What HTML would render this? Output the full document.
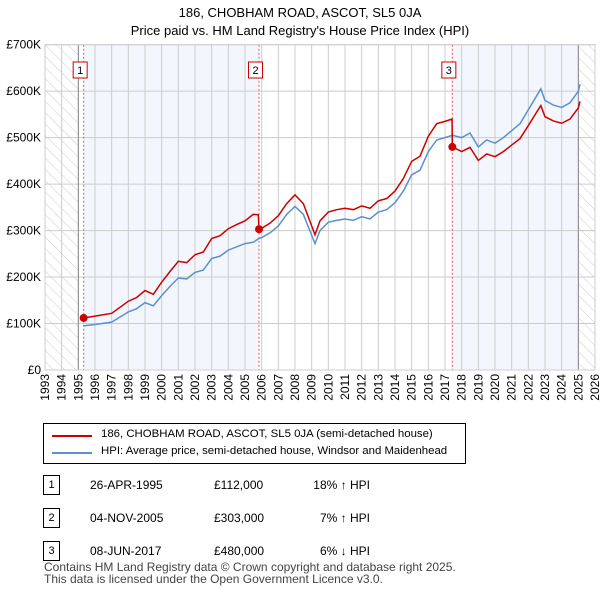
<!DOCTYPE html>
<html><head><meta charset="utf-8"><style>
body{margin:0;background:#fff;font-family:"Liberation Sans","DejaVu Sans",sans-serif;}
#wrap{position:relative;width:600px;height:590px;overflow:hidden}
.t{position:absolute;font-size:12px;color:#000;white-space:nowrap}
</style></head><body><div id="wrap">
<svg id="svg" width="600" height="590" style="position:absolute;left:0;top:0">
<defs><pattern id="hatch" width="8" height="8" patternUnits="userSpaceOnUse" patternTransform="rotate(-45)"><rect width="8" height="8" fill="#fff"/><line x1="0" y1="0" x2="0" y2="8" stroke="#ccc" stroke-width="1"/></pattern></defs>
<text x="300" y="17" text-anchor="middle" font-size="13">186, CHOBHAM ROAD, ASCOT, SL5 0JA</text>
<text x="300" y="35" text-anchor="middle" font-size="13">Price paid vs. HM Land Registry's House Price Index (HPI)</text>
<g id="plot"></g>
</svg>
<div style="position:absolute;left:43px;top:423px;width:421px;height:39px;border:1px solid #000">
<div style="position:absolute;left:8px;top:11px;width:40px;height:2px;background:#cc0000"></div>
<div class="t" style="left:57px;top:4px;font-size:11.4px">186, CHOBHAM ROAD, ASCOT, SL5 0JA (semi-detached house)</div>
<div style="position:absolute;left:8px;top:28px;width:40px;height:2px;background:#5b8fd0"></div>
<div class="t" style="left:57px;top:21px;font-size:11.4px">HPI: Average price, semi-detached house, Windsor and Maidenhead</div>
</div>
<div id="tbl"></div>
<div class="t" style="left:44px;top:560px;color:#444">Contains HM Land Registry data © Crown copyright and database right 2025.</div>
<div class="t" style="left:44px;top:572px;color:#444">This data is licensed under the Open Government Licence v3.0.</div>
</div>
<script>
const hpiT=[1995.3,1996,1997,1998,1998.5,1999,1999.5,2000,2000.5,2001,2001.5,2002,2002.5,2003,2003.5,2004,2004.5,2005,2005.5,2005.84,2006,2006.5,2007,2007.5,2008,2008.5,2009.2,2009.5,2010,2010.5,2011,2011.5,2012,2012.5,2013,2013.5,2014,2014.5,2015,2015.5,2016,2016.5,2017,2017.44,2018,2018.5,2019,2019.5,2020,2020.5,2021,2021.5,2022,2022.5,2022.75,2023,2023.5,2024,2024.5,2025,2025.1];
const hpiV=[95,98,103,125,132,145,138,160,180,198,196,210,215,240,245,258,265,272,275,283,285,295,310,335,352,335,272,300,318,322,325,322,330,325,340,345,360,385,420,430,470,495,500,505,500,510,480,495,488,500,515,530,560,590,605,580,570,565,575,600,615];
const redT=[1995.3,1996,1997,1998,1998.5,1999,1999.5,2000,2000.5,2001,2001.5,2002,2002.5,2003,2003.5,2004,2004.5,2005,2005.5,2005.8,2005.84,2006,2006.5,2007,2007.5,2008,2008.5,2009.2,2009.5,2010,2010.5,2011,2011.5,2012,2012.5,2013,2013.5,2014,2014.5,2015,2015.5,2016,2016.5,2017,2017.42,2017.44,2018,2018.5,2019,2019.5,2020,2020.5,2021,2021.5,2022,2022.5,2022.75,2023,2023.5,2024,2024.5,2025,2025.1];
const redV=[112,116,122,148,156,171,163,189,212,234,231,248,254,283,289,304,313,321,335,334,303,305,316,332,358,377,358,291,321,340,345,348,345,353,348,364,369,385,412,449,460,503,530,535,540,480,470,479,451,465,459,470,484,498,526,555,569,545,536,531,540,564,578];
const saleT=[1995.32,2005.84,2017.44];
const saleV=[112,303,480];
const saleLabels=["1","2","3"];
const saleDates=["26-APR-1995","04-NOV-2005","08-JUN-2017"];
const salePrices=["£112,000","£303,000","£480,000"];
const saleHpi=["18% ↑ HPI","7% ↑ HPI","6% ↓ HPI"];
const yTicks=[0,100,200,300,400,500,600,700];
const yLabels=["£0","£100K","£200K","£300K","£400K","£500K","£600K","£700K"];
const x0=45,x1=595,y0=370,y1=44.7,tmin=1993,tmax=2026,vmax=700;
const X=t=>x0+(t-tmin)/(tmax-tmin)*(x1-x0);
const Y=v=>y0-v/vmax*(y0-y1);
const NS="http://www.w3.org/2000/svg",g=document.getElementById('plot');
function mk(tag,a){const e=document.createElementNS(NS,tag);for(const k in a)e.setAttribute(k,a[k]);g.appendChild(e);return e;}
let e;
e=mk('rect',{x:x0,y:y1,width:X(1995)-x0,height:y0-y1,fill:'url(#hatch)'});


e=mk('rect',{x:X(2025),y:y1,width:x1-X(2025),height:y0-y1,fill:'url(#hatch)'});


e=mk('rect',{x:X(saleT[0]),y:y1,width:X(saleT[1])-X(saleT[0]),height:y0-y1,fill:'#eef3fc',opacity:0.7});


e=mk('rect',{x:X(saleT[2]),y:y1,width:X(2025)-X(saleT[2]),height:y0-y1,fill:'#eef3fc',opacity:0.7});


for(let yr=1993;yr<=2026;yr++){
 e=mk('line',{x1:X(yr),x2:X(yr),y1:y1,y2:y0,stroke:'#ccc','stroke-width':1});
 
 
 const tx=X(yr)+4,ty=y0+4;
 e=mk('text',{x:tx,y:ty,'font-size':12,'text-anchor':'end',transform:`rotate(-90 ${tx} ${ty})`});
 e.textContent=yr;
 
 
}
yTicks.forEach((v,i)=>{
 e=mk('line',{x1:x0,x2:x1,y1:Y(v),y2:Y(v),stroke:'#ccc','stroke-width':1});
 
 
 e=mk('text',{x:x0-4,y:Y(v)+4,'font-size':12,'text-anchor':'end'});
 e.textContent=yLabels[i];
 
 
});
[1995,2025].forEach(t=>{e=mk('line',{x1:X(t),x2:X(t),y1:y1,y2:y0,stroke:'#888','stroke-width':1});
 
 });
saleT.forEach((t,i)=>{
 e=mk('line',{x1:X(t),x2:X(t),y1:y1,y2:y0,stroke:'#e55','stroke-width':1,'stroke-dasharray':'2,2'});
 
 
});
e=mk('polyline',{points:hpiT.map((t,i)=>X(t)+','+Y(hpiV[i])).join(' '),fill:'none',stroke:'#5b8fd0','stroke-width':1.5});


e=mk('polyline',{points:redT.map((t,i)=>X(t)+','+Y(redV[i])).join(' '),fill:'none',stroke:'#cc0000','stroke-width':1.5});


saleT.forEach((t,i)=>{
 e=mk('circle',{cx:X(t),cy:Y(saleV[i]),r:4,fill:'#cc0000'});
 
 
 e=mk('rect',{x:X(t)-10.5,y:62,width:14,height:16,fill:'#fff',stroke:'#cc0000'});
 
 
 e=mk('text',{x:X(t)-3.5,y:74,'font-size':11,'text-anchor':'middle'});
 e.textContent=saleLabels[i];
 
 
});
e=mk('rect',{x:x0,y:y1,width:x1-x0,height:y0-y1,fill:'none',stroke:'#ccc'});


const tbl=document.getElementById('tbl');
saleT.forEach((t,i)=>{
 const top=475+i*33;
 const r=document.createElement('div');
 
 
 r.style.cssText=`position:absolute;left:0;top:${top}px;width:600px;height:20px`;
 r.innerHTML=`<div style="position:absolute;left:43px;top:0;width:15px;height:18px;border:1px solid #000;font-size:11px;text-align:center;line-height:18px">${saleLabels[i]}</div>`+
 `<div class="t" style="left:90px;top:3px">${saleDates[i]}</div>`+
 `<div class="t" style="left:214px;top:3px">${salePrices[i]}</div>`+
 `<div class="t" style="left:300px;width:70px;text-align:right;top:3px">${saleHpi[i]}</div>`;
 tbl.appendChild(r);
});
</script></body></html>
